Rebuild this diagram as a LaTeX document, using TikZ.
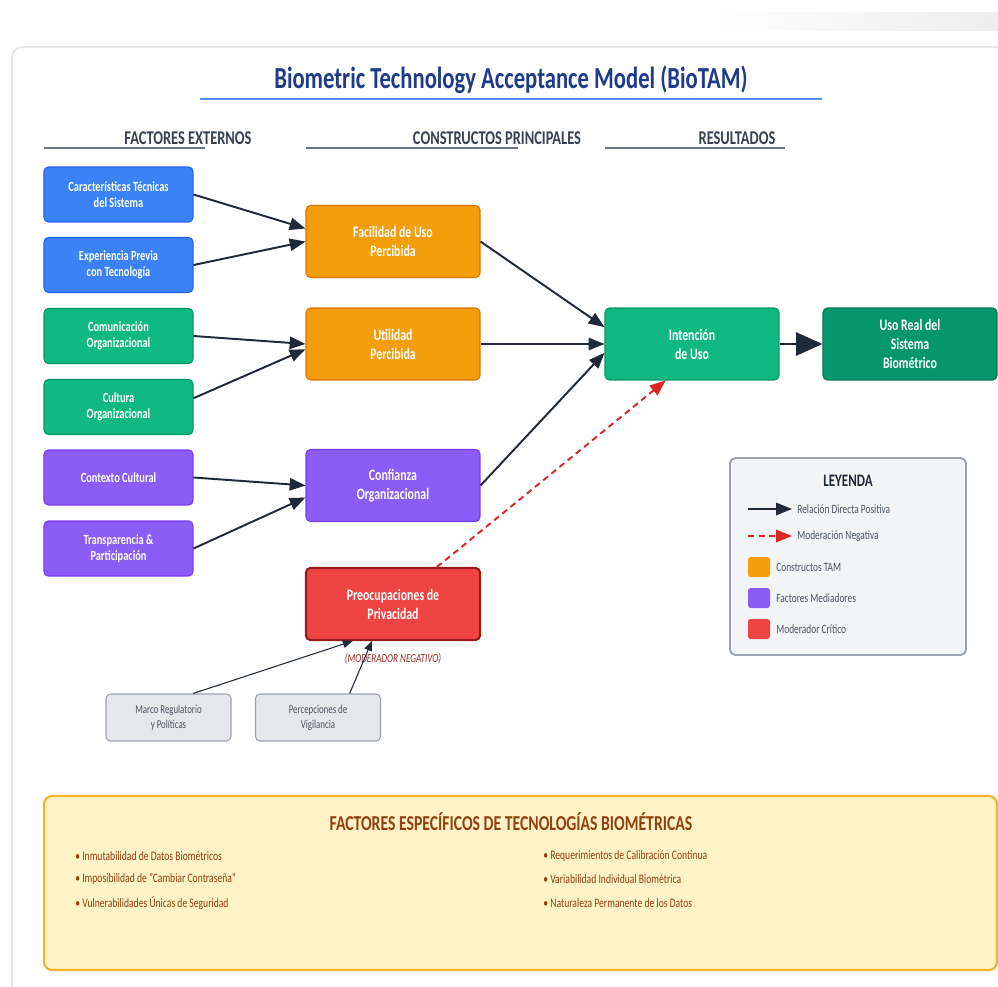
\documentclass[tikz,border=0pt]{standalone}
\usepackage{fontspec}
\setmainfont{Carlito}[FakeStretch=0.74]
\usetikzlibrary{arrows.meta}

\definecolor{navy}{HTML}{1E3A8A}
\definecolor{titleline}{HTML}{5B8DEF}
\definecolor{hdrtext}{HTML}{374151}
\definecolor{hdrline}{HTML}{6B7280}
\definecolor{panelline}{HTML}{E5E7EB}
\definecolor{bluefill}{HTML}{3B82F6}
\definecolor{blueline}{HTML}{2563EB}
\definecolor{greenfill}{HTML}{10B981}
\definecolor{greenline}{HTML}{059669}
\definecolor{purplefill}{HTML}{8B5CF6}
\definecolor{purpleline}{HTML}{7C3AED}
\definecolor{orangefill}{HTML}{F59E0B}
\definecolor{orangeline}{HTML}{D97706}
\definecolor{redfill}{HTML}{EF4444}
\definecolor{redline}{HTML}{991B1B}
\definecolor{darkgreen}{HTML}{059669}
\definecolor{darkgreenline}{HTML}{047857}
\definecolor{arrowcol}{HTML}{1F2937}
\definecolor{dashred}{HTML}{DC2626}
\definecolor{grayfill}{HTML}{E5E7EB}
\definecolor{grayline}{HTML}{9CA3AF}
\definecolor{graytext}{HTML}{4B5563}
\definecolor{legfill}{HTML}{F3F4F6}
\definecolor{notefill}{HTML}{FEF3C7}
\definecolor{noteline}{HTML}{F0B429}
\definecolor{notetext}{HTML}{92400E}
\definecolor{modtext}{HTML}{9B2C2C}

\tikzset{
  boxbase/.style={rounded corners=2.5pt, align=center, text=white, line width=0.6pt},
  extbox/.style={boxbase, minimum width=2.98cm, minimum height=1.1cm,
    font=\bfseries\fontsize{8}{9.2}\selectfont},
  corebox/.style={boxbase, minimum width=3.48cm, minimum height=1.44cm,
    font=\bfseries\fontsize{9.1}{10.8}\selectfont},
  graybox/.style={rounded corners=2.5pt, align=center, fill=grayfill, draw=grayline,
    line width=0.6pt, text=graytext, minimum width=2.5cm, minimum height=0.94cm,
    font=\fontsize{6.8}{8.5}\selectfont},
  header/.style={font=\bfseries\fontsize{11.1}{12}\selectfont, text=hdrtext},
  link/.style={-{Triangle[length=9pt,width=7pt]}, line width=1.1pt, draw=arrowcol},
  modlink/.style={-{Triangle[length=9pt,width=7pt]}, line width=1.1pt, draw=dashred,
    dash pattern=on 3.5pt off 2.5pt},
  thinlink/.style={-{Triangle[length=5.5pt,width=4.5pt]}, line width=0.6pt,
    draw=hdrline, arrowcol},
  legtext/.style={anchor=west, inner sep=0pt, text=graytext, font=\fontsize{7.2}{8}\selectfont},
  legsquare/.style={rounded corners=1.5pt, minimum width=0.44cm, minimum height=0.4cm},
  bullet/.style={anchor=west, inner sep=0pt, text=notetext, font=\fontsize{7.4}{9}\selectfont}
}

\begin{document}
\begin{tikzpicture}[x=0.02cm, y=-0.02cm]
  \clip (0,0) rectangle (998,987);
  \fill[white] (0,0) rectangle (998,987);
  % Background panel
  \shade[left color=white, right color=black!7] (710,12) rectangle (1000,30);
  \draw[panelline, line width=1pt, fill=white, rounded corners=6pt] (12,47) rectangle (1030,1020);

  % Title and column headers
  \node[font=\bfseries\fontsize{17.4}{19}\selectfont, text=navy] (title) at (511,80)
    {Biometric Technology Acceptance Model (BioTAM)};
  \draw[titleline, line width=1.7pt] (200,99) -- (822,99);
  \node[header] (hext) at (188,138) {FACTORES EXTERNOS};
  \node[header] (hcore) at (497,138) {CONSTRUCTOS PRINCIPALES};
  \node[header] (hres) at (737,138) {RESULTADOS};
  \draw[hdrline, line width=1.6pt] (44,148) -- (205,148);
  \draw[hdrline, line width=1.6pt] (306,148) -- (518,148);
  \draw[hdrline, line width=1.6pt] (605,148) -- (785,148);

  % External factors
  \node[extbox, fill=bluefill, draw=blueline] (tec) at (118.5,194.5) {Características Técnicas\\del Sistema};
  \node[extbox, fill=bluefill, draw=blueline] (exp) at (118.5,265) {Experiencia Previa\\con Tecnología};
  \node[extbox, fill=greenfill, draw=greenline] (com) at (118.5,336) {Comunicación\\Organizacional};
  \node[extbox, fill=greenfill, draw=greenline] (cul) at (118.5,407) {Cultura\\Organizacional};
  \node[extbox, fill=purplefill, draw=purpleline] (ctx) at (118.5,477.5) {Contexto Cultural};
  \node[extbox, fill=purplefill, draw=purpleline] (tra) at (118.5,548.5) {Transparencia \&\\Participación};

  % Main constructs
  \node[corebox, fill=orangefill, draw=orangeline] (fac) at (393,241.5) {Facilidad de Uso\\Percibida};
  \node[corebox, fill=orangefill, draw=orangeline] (uti) at (393,344) {Utilidad\\Percibida};
  \node[corebox, fill=purplefill, draw=purpleline] (conf) at (393,485.5) {Confianza\\Organizacional};
  \node[corebox, fill=redfill, draw=redline, line width=1.2pt] (priv) at (393,604) {Preocupaciones de\\Privacidad};
  \node[font=\itshape\fontsize{7}{8}\selectfont, text=modtext] (mod) at (393,659) {(MODERADOR NEGATIVO)};

  % Results
  \node[corebox, fill=greenfill, draw=greenline] (int) at (692,344) {Intención\\de Uso};
  \node[corebox, fill=darkgreen, draw=darkgreenline] (uso) at (910,344) {Uso Real del\\Sistema\\Biométrico};

  % Privacy antecedents
  \node[graybox] (marco) at (168.5,717.5) {Marco Regulatorio\\y Políticas};
  \node[graybox] (vig) at (318,717.5) {Percepciones de\\Vigilancia};

  % Arrows
  \draw[link] (tec.east) -- ([yshift=7.4pt]fac.west);
  \draw[link] (exp.east) -- (fac.west);
  \draw[link] (com.east) -- (uti.west);
  \draw[link] ([yshift=5pt]cul.east) -- ([yshift=-3pt]uti.west);
  \draw[link] (ctx.east) -- (conf.west);
  \draw[link] (tra.east) -- ([yshift=-6.8pt]conf.west);
  \draw[link] (fac.east) -- ([yshift=9.6pt]int.west);
  \draw[link] (uti.east) -- (int.west);
  \draw[link] (conf.east) -- ([yshift=-5pt]int.west);
  \draw[link, line width=1.7pt, -{Triangle[length=15pt,width=13pt]}] (int.east) -- (uso.west);
  \draw[modlink] ([xshift=25pt]priv.north) -- ([xshift=-15pt]int.south);
  \draw[thinlink] ([xshift=14pt]marco.north) -- ([xshift=-23pt]priv.south);
  \draw[thinlink] ([xshift=18pt]vig.north) -- ([xshift=-12pt]priv.south);

  % Legend
  \node[rounded corners=3pt, fill=legfill, draw=grayline, line width=1.1pt,
    minimum width=4.72cm, minimum height=3.94cm] (leg) at (848,556.5) {};
  \node[font=\bfseries\fontsize{10}{12}\selectfont, text=arrowcol] (legtitle) at (848,481) {LEYENDA};
  \coordinate (la1) at (748,509);
  \coordinate (la2) at (792,509);
  \coordinate (lb1) at (748,536);
  \coordinate (lb2) at (792,536);
  \draw[link] (la1) -- (la2);
  \draw[modlink] (lb1) -- (lb2);
  \node[legtext] (lpos) at (797,509) {Relación Directa Positiva};
  \node[legtext] (lneg) at (797,536) {Moderación Negativa};
  \node[legsquare, fill=orangefill] (sq1) at (759,567) {};
  \node[legsquare, fill=purplefill] (sq2) at (759,598) {};
  \node[legsquare, fill=redfill] (sq3) at (759,629) {};
  \node[legtext] (ltam) at (776,567) {Constructos TAM};
  \node[legtext] (lmed) at (776,598) {Factores Mediadores};
  \node[legtext] (lcrit) at (776,629) {Moderador Crítico};

  % Biometric specific factors
  \node[rounded corners=4.5pt, fill=notefill, draw=noteline, line width=1.2pt,
    minimum width=19.06cm, minimum height=3.48cm] (spec) at (520.5,883) {};
  \node[font=\bfseries\fontsize{12.1}{14}\selectfont, text=notetext] (spectitle) at (511,822)
    {FACTORES ESPECÍFICOS DE TECNOLOGÍAS BIOMÉTRICAS};
  \node[bullet] (b1) at (75,856) {• Inmutabilidad de Datos Biométricos};
  \node[bullet] (b2) at (75,879) {• Imposibilidad de "Cambiar Contraseña"};
  \node[bullet] (b3) at (75,903) {• Vulnerabilidades Únicas de Seguridad};
  \node[bullet] (b4) at (543,856) {• Requerimientos de Calibración Continua};
  \node[bullet] (b5) at (543,879) {• Variabilidad Individual Biométrica};
  \node[bullet] (b6) at (543,903) {• Naturaleza Permanente de los Datos};
\end{tikzpicture}
\end{document}
